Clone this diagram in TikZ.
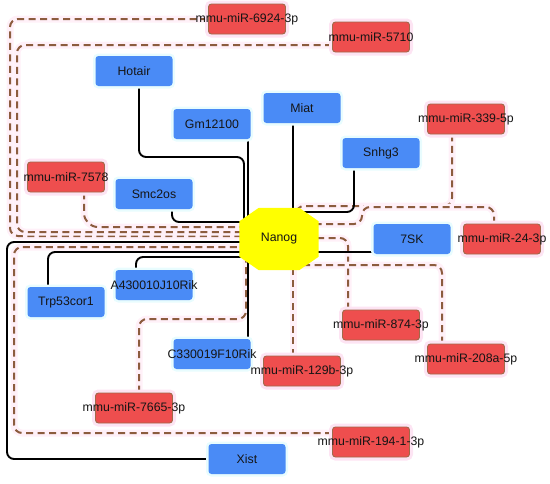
\documentclass[tikz,border=0pt]{standalone}
\usepackage{fontspec}
\setmainfont{Liberation Sans}
\usetikzlibrary{backgrounds,calc}
\definecolor{lncblue}{HTML}{4A8BF6}
\definecolor{mirred}{HTML}{EE4E4E}
\definecolor{mirborder}{HTML}{A06A4A}
\definecolor{dashbrown}{HTML}{8C5C3E}
\definecolor{pinkhalo}{HTML}{FFF0F8}
\definecolor{mirhalo}{HTML}{FDE4F3}
\definecolor{cyanhalo}{HTML}{E8FCFE}
\definecolor{txtcol}{HTML}{151515}
\definecolor{nanogyellow}{HTML}{FFFF00}
\pgfdeclarelayer{nanoglayer}
\pgfsetlayers{background,nanoglayer,main}
\newcommand\mklbl[1]{\makebox[0pt]{#1}}
\begin{document}
\begin{tikzpicture}[x=1pt,y=-1pt,
  lncbox/.style={rectangle, rounded corners=3pt, fill=lncblue, minimum width=77pt, minimum height=30pt, inner sep=0pt,
    font=\fontsize{12.3}{14}\selectfont, text=txtcol, preaction={draw=cyanhalo, line width=5pt}},
  mirbox/.style={rectangle, rounded corners=3pt, fill=mirred, draw=mirborder, line width=0.9pt, minimum width=77pt, minimum height=30pt, inner sep=0pt,
    font=\fontsize{12.3}{14}\selectfont, text=txtcol, preaction={draw=mirhalo, line width=7pt}},
  hubbox/.style={rectangle, minimum width=79pt, minimum height=62pt, inner sep=0pt, font=\fontsize{12.3}{14}\selectfont, text=txtcol},
  solidedge/.style={draw=black, line width=1.9pt, rounded corners=7pt},
  dashedge/.style={draw=dashbrown, line width=2pt, dash pattern=on 7pt off 4.5pt, rounded corners=8pt,
    preaction={draw=pinkhalo, line width=7pt, solid}}]
\useasboundingbox (0,0) rectangle (550,483);

% lncRNA nodes
\node[lncbox] (hotair) at (134,71) {\mklbl{Hotair}};
\node[lncbox] (gm) at (212,124) {\mklbl{Gm12100}};
\node[lncbox] (smc) at (154,194) {\mklbl{Smc2os}};
\node[lncbox] (miat) at (302,108) {\mklbl{Miat}};
\node[lncbox] (snhg) at (381,153) {\mklbl{Snhg3}};
\node[lncbox] (sevensk) at (412,239) {\mklbl{7SK}};
\node[lncbox] (trp) at (66,302) {\mklbl{Trp53cor1}};
\node[lncbox] (a430) at (154,285) {\mklbl{A430010J10Rik}};
\node[lncbox] (c330) at (212,354) {\mklbl{C330019F10Rik}};
\node[lncbox] (xist) at (247,459) {\mklbl{Xist}};

% miRNA nodes
\node[mirbox] (m6924) at (247,19) {\mklbl{mmu-miR-6924-3p}};
\node[mirbox] (m5710) at (371,37) {\mklbl{mmu-miR-5710}};
\node[mirbox] (m339) at (466,119) {\mklbl{mmu-miR-339-5p}};
\node[mirbox] (m7578) at (66,177) {\mklbl{mmu-miR-7578}};
\node[mirbox] (m24) at (502,239) {\mklbl{mmu-miR-24-3p}};
\node[mirbox] (m874) at (381,325) {\mklbl{mmu-miR-874-3p}};
\node[mirbox] (m208) at (466,359) {\mklbl{mmu-miR-208a-5p}};
\node[mirbox] (m129) at (302,371) {\mklbl{mmu-miR-129b-3p}};
\node[mirbox] (m7665) at (134,408) {\mklbl{mmu-miR-7665-3p}};
\node[mirbox] (m194) at (371,442) {\mklbl{mmu-miR-194-1-3p}};

% hub
\node[hubbox] (nanog) at (279,239) {Nanog};
\begin{pgfonlayer}{nanoglayer}
\fill[nanogyellow] ([xshift=19.5pt]nanog.north west) -- ([xshift=-19.5pt]nanog.north east)
  -- ([yshift=-13.5pt]nanog.north east) -- ([yshift=13.5pt]nanog.south east)
  -- ([xshift=-19.5pt]nanog.south east) -- ([xshift=19.5pt]nanog.south west)
  -- ([yshift=13.5pt]nanog.south west) -- ([yshift=-13.5pt]nanog.north west) -- cycle;
\end{pgfonlayer}

\begin{scope}[on background layer]
% dashed miRNA edges
\draw[dashedge] (m6924.west) -| ($(nanog)+(-269,-3)$) -- ($(nanog)+(0,-3)$);
\draw[dashedge] ([yshift=-8pt]m5710.west) -| ($(nanog)+(-262,-7)$) -- ($(nanog)+(0,-7)$);
\draw[dashedge, rounded corners=14pt] ([xshift=18pt]m7578.south) |- ($(nanog)+(0,-12)$);
\draw[dashedge] ([xshift=-14pt]m339.south) |- ($(nanog)+(17,-33)$) -- ($(nanog)+(17,0)$);
\draw[dashedge] ([xshift=-8pt]m24.north) |- ($(nanog)+(83,-32)$) |- ($(nanog)+(0,-15)$);
\draw[dashedge] ([xshift=-33pt]m874.north) |- ($(nanog)+(0,-1)$);
\draw[dashedge] ([xshift=-24pt]m208.north) |- ($(nanog)+(0,26)$);
\draw[dashedge] ([xshift=-9pt]m129.north) -- ($(nanog)+(14,0)$);
\draw[dashedge] ([xshift=5pt]m7665.north) |- ($(nanog)+(-33,80)$) -- ($(nanog)+(-33,0)$);
\draw[dashedge] ([yshift=9pt]m194.west) -| ($(nanog)+(-265,8)$) -- ($(nanog)+(0,8)$);
% solid lncRNA edges
\draw[solidedge] ([xshift=5pt]hotair.south) |- ($(nanog)+(-35,-82)$) -- ($(nanog)+(-35,0)$);
\draw[solidedge] ([xshift=36pt]gm.south) -- ($(nanog)+(-31,0)$);
\draw[solidedge] ([xshift=18pt]smc.south) |- ($(nanog)+(0,-17)$);
\draw[solidedge] ([xshift=-9pt]miat.south) -- ($(nanog)+(14,0)$);
\draw[solidedge] ([xshift=-27pt]snhg.south) |- ($(nanog)+(17,-27)$) -- ($(nanog)+(17,0)$);
\draw[solidedge] ([yshift=-13pt]sevensk.west) -- ($(nanog)+(0,13)$);
\draw[solidedge] (xist.west) -| ($(nanog)+(-272,3)$) -- ($(nanog)+(0,3)$);
\draw[solidedge] ([xshift=-18pt]trp.north) |- ($(nanog)+(0,13)$);
\draw[solidedge] ([xshift=-18pt]a430.north) |- ($(nanog)+(-31,18)$) -- ($(nanog)+(-31,0)$);
\draw[solidedge] ([xshift=36pt]c330.north) -- ($(nanog)+(-31,0)$);
\end{scope}
\end{tikzpicture}
\end{document}
